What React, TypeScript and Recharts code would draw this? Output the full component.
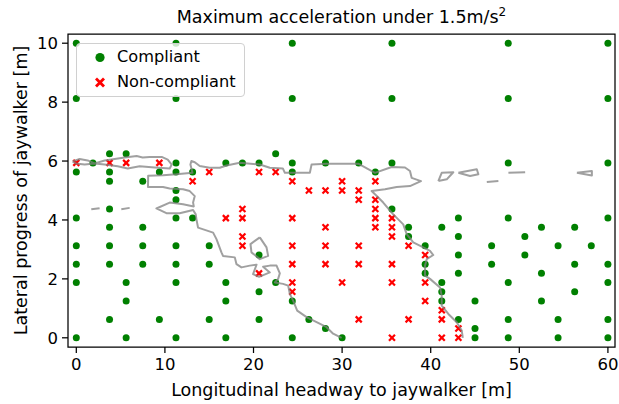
import React from "react";
import { ScatterChart, Scatter, XAxis, YAxis, ReferenceArea, Label } from "recharts";

type Pt = [number, number];

const xTicks = [0, 10, 20, 30, 40, 50, 60];
const yTicks = [0, 2, 4, 6, 8, 10];

// grid of tested scenarios: headway [m], lateral progress [m]
const compliant: Pt[] = [
  [0, 10], [11.25, 10], [24.375, 10], [35.625, 10], [48.75, 10], [60, 10],
  [0, 8.125], [11.25, 8.125], [24.375, 8.125], [35.625, 8.125], [48.75, 8.125], [60, 8.125],
  [3.75, 6.25], [5.625, 6.25], [22.5, 6.25],
  [1.875, 5.9375], [11.25, 5.9375], [16.875, 5.9375], [18.75, 5.9375], [20.625, 5.9375], [24.375, 5.9375],
  [28.125, 5.9375], [31.875, 5.9375], [35.625, 5.9375], [48.75, 5.9375], [60, 5.9375],
  [0, 5.625], [3.75, 5.625], [9.375, 5.625], [11.25, 5.625], [13.125, 5.625], [24.375, 5.625], [33.75, 5.625],
  [3.75, 5.3125], [7.5, 5.3125],
  [11.25, 5], [11.25, 4.6875],
  [3.75, 4.375], [35.625, 4.375],
  [0, 4.0625], [11.25, 4.0625], [13.125, 4.0625], [43.125, 4.0625], [48.75, 4.0625], [60, 4.0625],
  [3.75, 3.75], [7.5, 3.75], [37.5, 3.75], [41.25, 3.75], [52.5, 3.75], [56.25, 3.75],
  [37.5, 3.4375], [43.125, 3.4375], [50.625, 3.4375],
  [0, 3.125], [3.75, 3.125], [7.5, 3.125], [11.25, 3.125], [15, 3.125], [39.375, 3.125], [46.875, 3.125], [54.375, 3.125], [58.125, 3.125],
  [20.625, 2.8125], [43.125, 2.8125], [50.625, 2.8125],
  [0, 2.5], [3.75, 2.5], [7.5, 2.5], [11.25, 2.5], [15, 2.5], [39.375, 2.5], [46.875, 2.5], [56.25, 2.5], [60, 2.5],
  [39.375, 2.1875], [43.125, 2.1875], [52.5, 2.1875],
  [0, 1.875], [5.625, 1.875], [11.25, 1.875], [16.875, 1.875], [22.5, 1.875], [41.25, 1.875], [48.75, 1.875], [60, 1.875],
  [20.625, 1.5625], [41.25, 1.5625], [56.25, 1.5625],
  [5.625, 1.25], [16.875, 1.25], [24.375, 1.25], [41.25, 1.25], [45, 1.25], [52.5, 1.25],
  [3.75, 0.625], [9.375, 0.625], [15, 0.625], [20.625, 0.625], [26.25, 0.625], [43.125, 0.625], [48.75, 0.625], [54.375, 0.625], [60, 0.625],
  [28.125, 0.3125], [45, 0.3125],
  [0, 0], [5.625, 0], [11.25, 0], [16.875, 0], [24.375, 0], [30, 0], [45, 0], [48.75, 0], [54.375, 0], [60, 0],
];

const nonCompliant: Pt[] = [
  [0, 5.9375], [3.75, 5.9375], [5.625, 5.9375], [9.375, 5.9375],
  [15, 5.625], [20.625, 5.625], [22.5, 5.625],
  [13.125, 5.3125], [24.375, 5.3125], [30, 5.3125], [33.75, 5.3125],
  [26.25, 5], [28.125, 5], [30, 5], [31.875, 5],
  [31.875, 4.6875], [33.75, 4.6875],
  [18.75, 4.375], [33.75, 4.375],
  [16.875, 4.0625], [18.75, 4.0625], [24.375, 4.0625], [33.75, 4.0625], [35.625, 4.0625],
  [28.125, 3.75], [33.75, 3.75], [35.625, 3.75],
  [18.75, 3.4375], [35.625, 3.4375],
  [18.75, 3.125], [24.375, 3.125], [28.125, 3.125], [31.875, 3.125], [37.5, 3.125],
  [39.375, 2.8125],
  [24.375, 2.5], [28.125, 2.5], [31.875, 2.5], [35.625, 2.5],
  [20.625, 2.1875],
  [24.375, 1.875], [30, 1.875], [35.625, 1.875], [39.375, 1.875],
  [24.375, 1.5625],
  [39.375, 1.25],
  [41.25, 0.9375],
  [31.875, 0.625], [37.5, 0.625], [41.25, 0.625],
  [43.125, 0.3125],
  [35.625, 0], [41.25, 0], [43.125, 0],
];

// boundary contour
const contourMain: Pt[] = [
  [29.94, 0], [28.99, 0.14], [28.25, 0.36], [27.12, 0.53], [25.99, 0.7], [24.93, 0.92], [24.47, 1.26],
  [24.1, 1.49], [23.91, 1.77], [23.34, 1.83], [22.41, 1.88], [22.78, 2.0], [22.97, 2.19], [22.6, 2.45],
  [21.84, 2.45], [21.08, 2.41], [21.84, 2.22], [20.63, 2.07], [19.95, 2.16], [20.34, 2.48], [19.58, 2.45],
  [18.64, 2.39], [18.08, 2.5], [17.89, 2.73], [16.56, 2.78], [16.38, 2.9], [15.82, 3.35], [15.44, 3.57],
  [13.74, 3.74], [13.56, 4.02], [13.48, 4.19], [13.18, 4.34], [11.67, 4.23], [10.17, 4.23], [9.04, 4.39],
  [10.54, 4.59], [12.05, 4.53], [13.26, 4.46], [13.18, 4.59], [13.37, 4.81], [12.8, 4.98], [12.05, 5.04],
  [10.54, 5.07], [9.79, 5.12], [8.09, 5.12], [8.11, 5.5], [9.79, 5.52], [11.3, 5.55], [13.11, 5.6],
  [12.88, 5.88], [12.99, 6.0], [13.37, 5.96], [13.93, 5.83], [15.06, 5.77], [16.19, 5.77], [16.95, 5.85],
  [18.45, 5.94], [20.71, 5.88], [21.84, 5.77], [23.31, 5.75], [23.54, 5.6], [26.36, 5.6], [26.55, 5.88],
  [28.25, 5.91], [31.82, 5.91], [33.71, 5.6], [35.59, 5.8], [37.1, 5.78], [37.66, 5.66], [37.85, 5.43],
  [38.9, 5.32], [37.66, 5.15], [36.16, 5.12], [34.84, 5.04], [33.33, 4.98], [33.71, 4.87], [34.64, 4.59],
  [35.77, 4.19], [36.9, 3.85], [37.29, 3.52], [38.03, 3.24], [39.16, 3.07], [39.92, 2.95], [40.29, 2.81],
  [39.55, 2.67], [39.36, 2.45], [39.36, 2.11], [39.92, 2.0], [41.05, 1.71], [41.24, 1.43], [41.24, 1.09],
  [41.99, 0.81], [42.94, 0.53], [43.5, 0.25], [43.62, 0],
];

const contourLeftLoop: Pt[] = [
  [-0.42, 5.99], [0.37, 6.07], [1.28, 6.02], [2.07, 5.92], [3.2, 6.02], [4.33, 6.07], [5.46, 6.12],
  [6.81, 6.17], [7.49, 6.12], [8.28, 6.14], [9.64, 6.14], [10.32, 6.05], [10.77, 5.88], [10.54, 5.75],
  [8.85, 5.78], [7.15, 5.82], [5.8, 5.75], [4.67, 5.82], [3.2, 5.88], [2.07, 5.92], [0.94, 5.88],
  [-0.08, 5.92], [-0.42, 5.99],
];

const contourKite: Pt[] = [
  [20.71, 3.41], [21.47, 3.07], [21.65, 2.78], [20.71, 2.67], [19.77, 2.9], [19.66, 3.18], [20.71, 3.41],
];

const contourBits: Pt[][] = [
  [[1.69, 4.36], [2.63, 4.4]],
  [[5.08, 4.36], [6.02, 4.41]],
  [[40.86, 5.32], [41.24, 5.6], [42.55, 5.62], [41.81, 5.38], [40.86, 5.32]],
  [[43.12, 5.6], [45.2, 5.72], [45.38, 5.55], [44.44, 5.49], [43.12, 5.6]],
  [[46.33, 5.29], [47.64, 5.32]],
  [[48.77, 5.6], [50.66, 5.62]],
  [[56.5, 5.6], [58.19, 5.66], [58.19, 5.51], [56.5, 5.6]],
];

const FONT = "'DejaVu Sans', sans-serif";
const GREEN = "#008000";
const RED = "#ff0000";

const toXY = (pts: Pt[]) => pts.map(([x, y]) => ({ x, y }));

const GreenDot = (props: any) => <circle cx={props.cx} cy={props.cy} r={3.5} fill={GREEN} />;

const RedX = (props: any) => {
  const { cx, cy } = props;
  const s = 3;
  return (
    <g stroke={RED} strokeWidth={2.2}>
      <line x1={cx - s} y1={cy - s} x2={cx + s} y2={cy + s} />
      <line x1={cx - s} y1={cy + s} x2={cx + s} y2={cy - s} />
    </g>
  );
};

const NoShape = () => <g />;

const contourLine = { stroke: "#808080", strokeWidth: 2, strokeOpacity: 0.75, strokeLinejoin: "round" as const };

function LegendBox() {
  return (
    <div
      style={{
        position: "absolute",
        left: 76,
        top: 43,
        width: 169,
        height: 54,
        border: "1px solid #d0d0d0",
        borderRadius: 4,
        background: "rgba(255,255,255,0.8)",
        fontFamily: FONT,
        fontSize: 16.2,
        color: "#000",
        boxSizing: "border-box",
      }}
    >
      <svg width={20} height={52} style={{ position: "absolute", left: 13, top: 1 }}>
        <circle cx={10} cy={12.5} r={4.6} fill={GREEN} />
        <g stroke={RED} strokeWidth={2.8}>
          <line x1={6} y1={33.5} x2={14} y2={41.5} />
          <line x1={6} y1={41.5} x2={14} y2={33.5} />
        </g>
      </svg>
      <div style={{ position: "absolute", left: 40, top: 2, lineHeight: "22px" }}>Compliant</div>
      <div style={{ position: "absolute", left: 40, top: 27, lineHeight: "22px" }}>Non-compliant</div>
    </div>
  );
}

export default function App() {
  return (
    <div style={{ position: "absolute", left: 0, top: 0, width: 619, height: 404, background: "#fff", fontFamily: FONT }}>
      <div
        style={{
          position: "absolute",
          left: 68,
          width: 547,
          top: 5,
          textAlign: "center",
          fontSize: 17.5,
          lineHeight: "24px",
          color: "#000",
        }}
      >
        Maximum acceleration under 1.5m/s<sup style={{ fontSize: 12, verticalAlign: "7px", lineHeight: 0 }}>2</sup>
      </div>
      <ScatterChart width={619} height={404} margin={{ top: 34, right: 4, bottom: 0, left: 0 }}>
        <XAxis
          type="number"
          dataKey="x"
          domain={[-0.9375, 60.8]}
          allowDataOverflow
          ticks={xTicks}
          height={57}
          axisLine={false}
          tickLine={{ stroke: "#000", strokeWidth: 1.25 }}
          tickSize={6}
          tickMargin={5}
          tick={{ fill: "#000", fontSize: 16.5, fontFamily: FONT }}
        >
          <Label
            content={() => (
              <text
                x={341.5}
                y={389.5}
                textAnchor="middle"
                dominantBaseline="central"
                style={{ fill: "#000", fontSize: 17.5, fontFamily: FONT }}
              >
                Longitudinal headway to jaywalker [m]
              </text>
            )}
          />
        </XAxis>
        <YAxis
          type="number"
          dataKey="y"
          domain={[-0.3125, 10.3125]}
          allowDataOverflow
          ticks={yTicks}
          width={68}
          axisLine={false}
          tickLine={{ stroke: "#000", strokeWidth: 1.25 }}
          tickSize={6}
          tickMargin={4}
          tick={{ fill: "#000", fontSize: 16.5, fontFamily: FONT }}
        >
          <Label
            content={() => (
              <text
                x={21}
                y={190.5}
                transform="rotate(-90 21 190.5)"
                textAnchor="middle"
                dominantBaseline="central"
                style={{ fill: "#000", fontSize: 17.5, fontFamily: FONT }}
              >
                Lateral progress of jaywalker [m]
              </text>
            )}
          />
        </YAxis>
        <Scatter data={toXY(compliant)} shape={GreenDot} isAnimationActive={false} />
        <Scatter data={toXY(nonCompliant)} shape={RedX} isAnimationActive={false} />
        <Scatter data={toXY(contourMain)} line={contourLine} shape={NoShape} isAnimationActive={false} />
        <Scatter data={toXY(contourLeftLoop)} line={contourLine} shape={NoShape} isAnimationActive={false} />
        <Scatter data={toXY(contourKite)} line={contourLine} shape={NoShape} isAnimationActive={false} />
        {contourBits.map((b, k) => (
          <Scatter key={k} data={toXY(b)} line={contourLine} shape={NoShape} isAnimationActive={false} />
        ))}
        <ReferenceArea
          x1={-0.9375}
          x2={60.8}
          y1={-0.3125}
          y2={10.3125}
          fill="none"
          stroke="#000"
          strokeWidth={1.25}
          ifOverflow="visible"
        />
      </ScatterChart>
      <LegendBox />
    </div>
  );
}
